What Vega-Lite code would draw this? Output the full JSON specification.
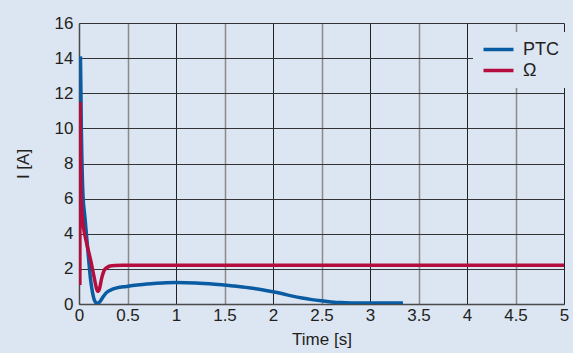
{
  "$schema": "https://vega.github.io/schema/vega-lite/v6.json",
  "width": 485,
  "height": 281,
  "autosize": "none",
  "padding": {"left": 79, "top": 23, "right": 9, "bottom": 49},
  "background": "#dce5f2",
  "config": {
    "view": {"stroke": null},
    "font": "Liberation Sans",
    "axis": {
      "labelFont": "Liberation Sans",
      "titleFont": "Liberation Sans",
      "labelFontSize": 17,
      "titleFontSize": 17,
      "labelColor": "#231f20",
      "titleColor": "#231f20",
      "titleFontWeight": "normal",
      "ticks": false,
      "domainColor": "#4a4a4a",
      "domainWidth": 1.5,
      "gridOpacity": 1
    },
    "legend": {
      "labelFont": "Liberation Sans",
      "labelFontSize": 18,
      "labelColor": "#231f20"
    }
  },
  "data": {
    "values": [
      {"t": 0.015, "I": 14.1, "s": "PTC"},
      {"t": 0.02, "I": 12.0, "s": "PTC"},
      {"t": 0.024, "I": 10.0, "s": "PTC"},
      {"t": 0.031, "I": 8.0, "s": "PTC"},
      {"t": 0.041, "I": 6.2, "s": "PTC"},
      {"t": 0.06, "I": 5.0, "s": "PTC"},
      {"t": 0.08, "I": 3.75, "s": "PTC"},
      {"t": 0.1, "I": 2.5, "s": "PTC"},
      {"t": 0.118, "I": 1.45, "s": "PTC"},
      {"t": 0.138, "I": 0.7, "s": "PTC"},
      {"t": 0.16, "I": 0.2, "s": "PTC"},
      {"t": 0.186, "I": 0.04, "s": "PTC"},
      {"t": 0.21, "I": 0.1, "s": "PTC"},
      {"t": 0.25, "I": 0.42, "s": "PTC"},
      {"t": 0.29, "I": 0.68, "s": "PTC"},
      {"t": 0.34, "I": 0.83, "s": "PTC"},
      {"t": 0.39, "I": 0.92, "s": "PTC"},
      {"t": 0.49, "I": 1.0, "s": "PTC"},
      {"t": 0.6, "I": 1.08, "s": "PTC"},
      {"t": 0.7, "I": 1.14, "s": "PTC"},
      {"t": 0.8, "I": 1.18, "s": "PTC"},
      {"t": 0.9, "I": 1.21, "s": "PTC"},
      {"t": 1.0, "I": 1.22, "s": "PTC"},
      {"t": 1.2, "I": 1.2, "s": "PTC"},
      {"t": 1.4, "I": 1.13, "s": "PTC"},
      {"t": 1.5, "I": 1.08, "s": "PTC"},
      {"t": 1.6, "I": 1.02, "s": "PTC"},
      {"t": 1.75, "I": 0.92, "s": "PTC"},
      {"t": 1.9, "I": 0.8, "s": "PTC"},
      {"t": 2.0, "I": 0.7, "s": "PTC"},
      {"t": 2.1, "I": 0.58, "s": "PTC"},
      {"t": 2.2, "I": 0.45, "s": "PTC"},
      {"t": 2.3, "I": 0.34, "s": "PTC"},
      {"t": 2.4, "I": 0.25, "s": "PTC"},
      {"t": 2.5, "I": 0.18, "s": "PTC"},
      {"t": 2.6, "I": 0.12, "s": "PTC"},
      {"t": 2.7, "I": 0.08, "s": "PTC"},
      {"t": 2.85, "I": 0.06, "s": "PTC"},
      {"t": 3.0, "I": 0.05, "s": "PTC"},
      {"t": 3.34, "I": 0.05, "s": "PTC"},
      {"t": 0.009, "I": 1.08, "s": "Ω"},
      {"t": 0.011, "I": 11.4, "s": "Ω"},
      {"t": 0.015, "I": 8.5, "s": "Ω"},
      {"t": 0.02, "I": 6.3, "s": "Ω"},
      {"t": 0.03, "I": 5.2, "s": "Ω"},
      {"t": 0.048, "I": 4.3, "s": "Ω"},
      {"t": 0.065, "I": 3.8, "s": "Ω"},
      {"t": 0.083, "I": 3.35, "s": "Ω"},
      {"t": 0.105, "I": 2.85, "s": "Ω"},
      {"t": 0.124, "I": 2.4, "s": "Ω"},
      {"t": 0.142, "I": 1.9, "s": "Ω"},
      {"t": 0.158, "I": 1.47, "s": "Ω"},
      {"t": 0.175, "I": 1.0, "s": "Ω"},
      {"t": 0.193, "I": 0.72, "s": "Ω"},
      {"t": 0.21, "I": 0.85, "s": "Ω"},
      {"t": 0.234, "I": 1.47, "s": "Ω"},
      {"t": 0.262, "I": 1.94, "s": "Ω"},
      {"t": 0.29, "I": 2.08, "s": "Ω"},
      {"t": 0.32, "I": 2.16, "s": "Ω"},
      {"t": 0.37, "I": 2.19, "s": "Ω"},
      {"t": 0.45, "I": 2.2, "s": "Ω"},
      {"t": 5.0, "I": 2.2, "s": "Ω"}
    ]
  },
  "mark": {"type": "line", "strokeWidth": 3.5, "interpolate": "monotone", "clip": true},
  "encoding": {
    "x": {
      "field": "t",
      "type": "quantitative",
      "scale": {"domain": [0, 5], "nice": false},
      "axis": {
        "title": "Time [s]",
        "values": [0, 0.5, 1, 1.5, 2, 2.5, 3, 3.5, 4, 4.5, 5],
        "format": "~g",
        "labelPadding": 3,
        "titlePadding": 8,
        "labelFlush": false,
        "labelOverlap": false,
        "gridColor": {"condition": {"test": "datum.value % 1 !== 0", "value": "#8a8a8a"}, "value": "#222222"},
        "gridWidth": {"condition": {"test": "datum.value % 1 !== 0", "value": 1.5}, "value": 1}
      }
    },
    "y": {
      "field": "I",
      "type": "quantitative",
      "scale": {"domain": [0, 16], "nice": false},
      "axis": {
        "title": "I [A]",
        "values": [0, 2, 4, 6, 8, 10, 12, 14, 16],
        "labelPadding": 6,
        "titlePadding": 22,
        "labelFlush": false,
        "labelOverlap": false,
        "gridColor": "#333333",
        "gridWidth": 1
      }
    },
    "color": {
      "field": "s",
      "type": "nominal",
      "scale": {"domain": ["PTC", "Ω"], "range": ["#0a5ca2", "#b50e3e"]},
      "legend": {
        "title": null,
        "orient": "none",
        "legendX": 394,
        "legendY": 9,
        "fillColor": "#dce5f2",
        "padding": 8,
        "symbolType": "M-2,0L2,0",
        "symbolSize": 225,
        "symbolStrokeWidth": 3.5,
        "symbolOffset": 8,
        "labelOffset": 15,
        "rowPadding": 2
      }
    }
  }
}
